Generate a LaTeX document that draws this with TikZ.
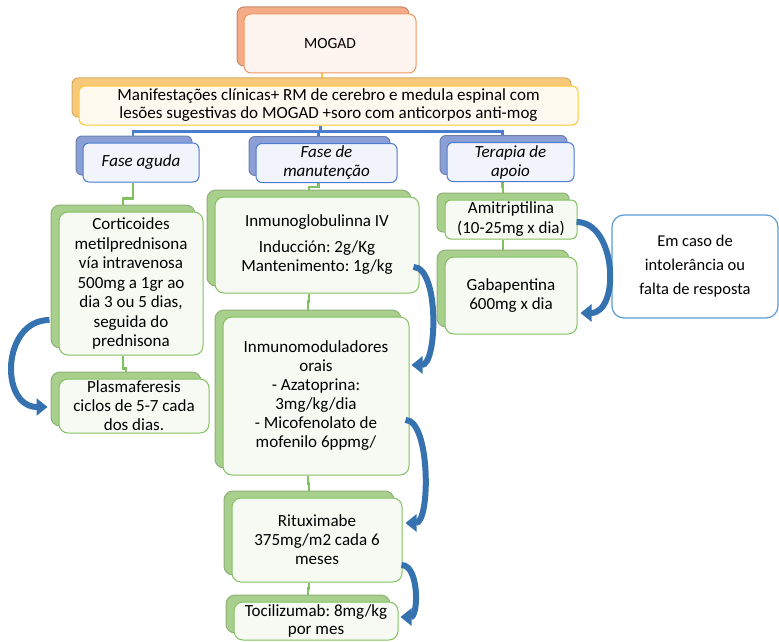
\documentclass[tikz,border=0pt]{standalone}
\usepackage{fontspec}
\setmainfont{Carlito}
\frenchspacing
\usepackage{tikz}
\usetikzlibrary{positioning, arrows.meta, shadows, backgrounds}
\definecolor{mogadline}{HTML}{F29660}
\definecolor{mogadfill}{HTML}{FDF4F0}
\definecolor{mogadback}{HTML}{F4AC88}
\definecolor{infoline}{HTML}{FFC82E}
\definecolor{infofill}{HTML}{FFFAF0}
\definecolor{infoback}{HTML}{F9C97A}
\definecolor{phaseline}{HTML}{4A7CD0}
\definecolor{phasefill}{HTML}{F2F4FB}
\definecolor{phaseback}{HTML}{8A9FD6}
\definecolor{treatline}{HTML}{82C160}
\definecolor{treatfill}{HTML}{F6FAF3}
\definecolor{treatback}{HTML}{A8D08C}
\definecolor{noteline}{HTML}{5B9BD5}
\definecolor{arrowblue}{HTML}{3672B0}
\tikzset{
  topbox/.style={rectangle, rounded corners=7pt, align=center, draw=mogadline, fill=mogadfill, line width=1pt, copy shadow={shadow xshift=-7pt, shadow yshift=7pt, fill=mogadback, draw=mogadback!80!black, opacity=1}},
  infobox/.style={rectangle, rounded corners=6pt, align=center, inner sep=2pt, draw=infoline, fill=infofill, line width=1pt, copy shadow={shadow xshift=-7pt, shadow yshift=8pt, fill=infoback, draw=infoback!85!black, opacity=1}},
  phasebox/.style={rectangle, rounded corners=6pt, align=center, inner sep=2pt, draw=phaseline, fill=phasefill, line width=1pt, font=\fontsize{17}{19}\selectfont\itshape, copy shadow={shadow xshift=-7pt, shadow yshift=7pt, fill=phaseback, draw=phaseback!80!black, opacity=1}},
  treatbox/.style={rectangle, rounded corners=9pt, align=center, inner sep=2pt, draw=treatline, fill=treatfill, line width=1pt, copy shadow={shadow xshift=-8pt, shadow yshift=7pt, fill=treatback, draw=treatback!85!black, opacity=1}},
  notebox/.style={rectangle, rounded corners=12pt, align=center, draw=noteline, fill=white, line width=1.2pt},
  yellowlink/.style={draw=infoline, line width=2.2pt},
  bluelink/.style={draw=phaseline, line width=2.2pt},
  greenlink/.style={draw=treatline, line width=2.2pt},
  curvearrow/.style={draw=arrowblue, line width=6pt, -{Triangle[width=17pt,length=11pt]}}
}
\begin{document}
\begin{tikzpicture}[x=1pt, y=-1pt, every node/.style={font=\fontsize{17}{19}\selectfont}]
        \useasboundingbox (0,0) rectangle (779,642);
        \node (mogad) [topbox, minimum width=172pt, minimum height=59pt, font=\fontsize{15.5}{18}\selectfont] at (330,43.5) {MOGAD};
        \node (manif) [infobox, minimum width=499pt, minimum height=39pt, font=\fontsize{17}{18}\selectfont] at (328.5,105.5) {Manifestações clínicas+ RM de cerebro e medula espinal com\\lesões sugestivas do MOGAD +soro com anticorpos anti-mog};

        \node (aguda) [phasebox, minimum width=116pt, minimum height=39pt] at (141,162.5) {Fase aguda};
        \node (manut) [phasebox, minimum width=141pt, minimum height=39pt] at (326.5,163) {Fase de\\manutenção};
        \node (apoio) [phasebox, minimum width=127pt, minimum height=39pt] at (510.5,162) {Terapia de\\apoio};

        \node (cortic) [treatbox, minimum width=144pt, minimum height=143pt, font=\fontsize{17}{19.5}\selectfont] at (131,283.5) {Corticoides\\metilprednisona\\vía intravenosa\\500mg a 1gr ao\\dia 3 ou 5 dias,\\seguida do\\prednisona};
        \node (plasma) [treatbox, minimum width=150pt, minimum height=54pt, inner ysep=0pt] at (134,406) {Plasmaferesis\\ciclos de 5-7 cada\\dos dias.};

        \node (imglob) [treatbox, minimum width=204pt, minimum height=96pt] at (317,245) {Inmunoglobulinna IV\\[7pt]Inducción: 2g/Kg\\Mantenimento: 1g/kg};
        \node (imod) [treatbox, minimum width=186pt, minimum height=158pt] at (316,396) {Inmunomoduladores\\orais\\- Azatoprina:\\3mg/kg/dia\\- Micofenolato de\\mofenilo 6ppmg/};
        \node (ritux) [treatbox, minimum width=170pt, minimum height=84pt] at (317,540) {Rituximabe\\375mg/m2 cada 6\\meses};
        \node (tocil) [treatbox, minimum width=164pt, minimum height=38pt, inner ysep=1pt, font=\fontsize{17}{18}\selectfont] at (316,621) {Tocilizumab: 8mg/kg\\por mes};

        \node (amitr) [treatbox, minimum width=132pt, minimum height=39pt, rounded corners=6pt, font=\fontsize{17}{20}\selectfont] at (511,219.5) {Amitriptilina\\(10-25mg x dia)};
        \node (gaba) [treatbox, minimum width=132pt, minimum height=77pt] at (511,295.5) {Gabapentina\\600mg x dia};

        \node (nota) [notebox, minimum width=166pt, minimum height=103pt, font=\fontsize{16.5}{24}\selectfont] at (695,266.5) {Em caso de\\intolerância ou\\falta de resposta};

        % Conectores por detras das caixas
        \begin{scope}[on background layer]
        \draw [yellowlink] ([xshift=-8pt]mogad.south) -- ([xshift=-8pt]mogad.south |- manif.north);
        \draw [bluelink] ([xshift=-8pt]manif.south) -- ++(0,6) -| ([xshift=-8pt]aguda.north);
        \draw [bluelink] ([xshift=-8pt]manif.south) ++(0,6) -| ([xshift=-8pt]apoio.north);
        \draw [bluelink] ([xshift=-8pt]manif.south) -- ++(0,6) -| ([xshift=-8pt]manut.north);

        \draw [greenlink] ([xshift=-8pt]aguda.south) -- ++(0,16) -| ([xshift=-8pt]cortic.north);
        \draw [greenlink] ([xshift=-8pt]cortic.south) -- ++(0,13) -| ([xshift=-8pt]plasma.north);
        \draw [greenlink] ([xshift=-8pt]manut.south) -- ++(0,4) -| ([xshift=-8pt]imglob.north);
        \draw [greenlink] ([xshift=-8pt]imglob.south) -- ++(0,8) -| ([xshift=-8pt]imod.north);
        \draw [greenlink] ([xshift=-8pt]imod.south) -- ++(0,8) -| ([xshift=-8pt]ritux.north);
        \draw [greenlink] ([xshift=-8pt]ritux.south) -- ++(0,6) -| ([xshift=-8pt]tocil.north);
        \draw [greenlink] ([xshift=-8pt]apoio.south) -- ++(0,5) -| ([xshift=-8pt]amitr.north);
        \draw [greenlink] ([xshift=-8pt]amitr.south) -- ++(0,5) -| ([xshift=-8pt]gaba.north);
        \end{scope}

        % Setas curvas
        \draw [curvearrow] ([xshift=-9pt,yshift=-36.5pt]cortic.west) .. controls +(-48,0) and +(-48,0) .. ([xshift=-11pt,yshift=-1pt]plasma.west);
        \draw [curvearrow] ([xshift=-6pt,yshift=-22pt]imglob.east) .. controls +(26,0) and +(26,0) .. ([xshift=2pt,yshift=31pt]imod.east);
        \draw [curvearrow] ([xshift=-4pt,yshift=-24pt]imod.east) .. controls +(25,0) and +(25,0) .. ([xshift=3pt,yshift=17pt]ritux.east);
        \draw [curvearrow] ([xshift=-1pt,yshift=-25pt]ritux.east) .. controls +(18,0) and +(18,0) .. ([xshift=2pt,yshift=4pt]tocil.east);
        \draw [curvearrow] ([xshift=-1pt,yshift=-2.5pt]amitr.east) .. controls +(40,0) and +(40,0) .. ([xshift=3pt,yshift=-17.5pt]gaba.east);
\end{tikzpicture}
\end{document}
